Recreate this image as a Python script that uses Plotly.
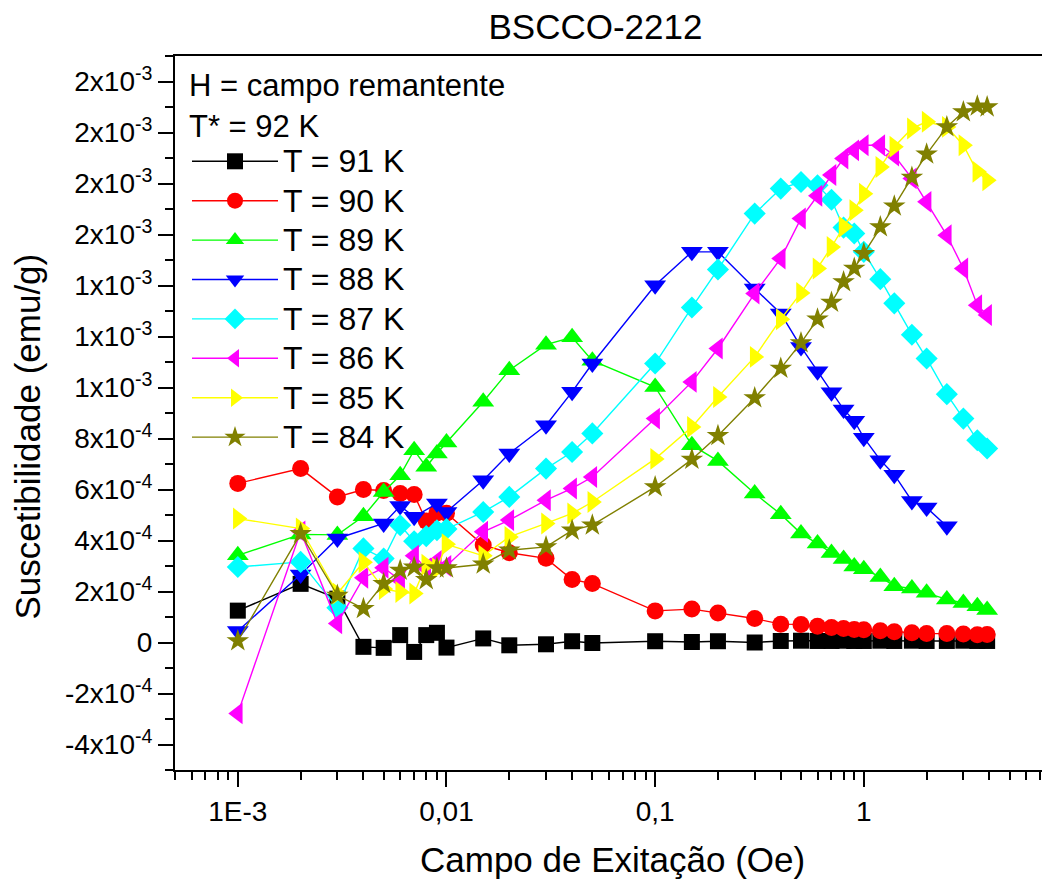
import plotly.graph_objects as go

# Excitation field (Oe) shared by all temperature runs
field_oe = [0.001, 0.002, 0.003, 0.004, 0.005, 0.006, 0.007, 0.008, 0.009, 0.01,
            0.015, 0.02, 0.03, 0.04, 0.05, 0.1, 0.15, 0.2, 0.3, 0.4,
            0.5, 0.6, 0.7, 0.8, 0.9, 1.0, 1.2, 1.4, 1.7, 2.0,
            2.5, 3.0, 3.5, 3.9]

# Susceptibility (emu/g) for each temperature
chi_91K = [1.25e-4, 2.30e-4, 1.72e-4, -0.17e-4, -0.21e-4, 0.29e-4, -0.37e-4, 0.29e-4, 0.38e-4, -0.20e-4,
           0.16e-4, -0.11e-4, -0.07e-4, 0.05e-4, -0.02e-4, 0.05e-4, 0.02e-4, 0.05e-4, 0.00e-4, 0.06e-4,
           0.07e-4, 0.06e-4, 0.06e-4, 0.07e-4, 0.06e-4, 0.06e-4, 0.07e-4, 0.06e-4, 0.07e-4, 0.06e-4,
           0.06e-4, 0.07e-4, 0.06e-4, 0.06e-4]
chi_90K = [6.24e-4, 6.82e-4, 5.71e-4, 6.00e-4, 5.96e-4, 5.84e-4, 5.80e-4, 4.76e-4, 5.08e-4, 5.07e-4,
           3.82e-4, 3.52e-4, 3.30e-4, 2.47e-4, 2.31e-4, 1.24e-4, 1.31e-4, 1.16e-4, 0.94e-4, 0.72e-4,
           0.71e-4, 0.64e-4, 0.59e-4, 0.55e-4, 0.51e-4, 0.50e-4, 0.46e-4, 0.42e-4, 0.38e-4, 0.35e-4,
           0.35e-4, 0.33e-4, 0.30e-4, 0.31e-4]
chi_89K = [3.42e-4, 4.24e-4, 4.22e-4, 4.95e-4, 5.90e-4, 6.56e-4, 7.54e-4, 6.89e-4, 7.41e-4, 7.84e-4,
           9.44e-4, 10.68e-4, 11.68e-4, 11.97e-4, 11.05e-4, 10.02e-4, 7.74e-4, 7.12e-4, 5.84e-4, 5.03e-4,
           4.27e-4, 3.88e-4, 3.51e-4, 3.27e-4, 2.98e-4, 2.87e-4, 2.57e-4, 2.21e-4, 2.12e-4, 1.95e-4,
           1.69e-4, 1.55e-4, 1.42e-4, 1.27e-4]
chi_88K = [0.45e-4, 2.67e-4, 4.08e-4, None, 4.67e-4, 5.35e-4, 4.93e-4, None, 5.45e-4, 5.12e-4,
           6.36e-4, 7.41e-4, 8.52e-4, 9.83e-4, 10.94e-4, 14.01e-4, 15.32e-4, 15.32e-4, 13.88e-4, 12.90e-4,
           11.59e-4, 10.64e-4, 9.81e-4, 9.14e-4, 8.70e-4, 8.03e-4, 7.15e-4, 6.58e-4, 5.55e-4, 5.29e-4,
           4.56e-4, None, None, None]
chi_87K = [2.96e-4, 3.16e-4, 1.36e-4, 3.69e-4, 3.29e-4, 4.60e-4, 3.97e-4, 4.17e-4, 4.40e-4, 4.45e-4,
           5.12e-4, 5.71e-4, 6.82e-4, 7.47e-4, 8.20e-4, 10.94e-4, 13.14e-4, 14.63e-4, 16.82e-4, 17.80e-4,
           18.06e-4, 17.93e-4, 17.36e-4, 16.27e-4, 16.04e-4, 15.32e-4, 14.25e-4, 13.30e-4, 12.07e-4, 11.14e-4,
           9.74e-4, 8.78e-4, 7.93e-4, 7.61e-4]
chi_86K = [-2.78e-4, 4.35e-4, 0.75e-4, 2.54e-4, 2.93e-4, 2.44e-4, 3.40e-4, 2.90e-4, 3.20e-4, 3.00e-4,
           4.34e-4, 4.80e-4, 5.58e-4, 6.04e-4, 6.49e-4, 8.78e-4, 10.22e-4, 11.53e-4, 13.69e-4, 15.06e-4,
           16.63e-4, 17.52e-4, 18.33e-4, 18.98e-4, 19.30e-4, 19.50e-4, 19.50e-4, 19.10e-4, 18.20e-4, 17.28e-4,
           15.97e-4, 14.67e-4, 13.23e-4, 12.84e-4]
chi_85K = [4.86e-4, 4.47e-4, 1.92e-4, 3.15e-4, 2.10e-4, 1.98e-4, 1.92e-4, 3.05e-4, 2.90e-4, 3.85e-4,
           3.40e-4, 4.14e-4, 4.67e-4, 5.06e-4, 5.51e-4, 7.20e-4, 8.45e-4, 9.63e-4, 11.20e-4, 12.68e-4,
           13.71e-4, 14.67e-4, 15.51e-4, 16.30e-4, 16.95e-4, 17.60e-4, 18.65e-4, 19.44e-4, 20.16e-4, 20.42e-4,
           20.22e-4, 19.50e-4, 18.46e-4, 18.13e-4]
chi_84K = [0.06e-4, 4.27e-4, 1.85e-4, 1.33e-4, 2.31e-4, 2.83e-4, 2.95e-4, 2.46e-4, 2.92e-4, 2.92e-4,
           3.07e-4, 3.62e-4, 3.75e-4, 4.40e-4, 4.60e-4, 6.10e-4, 7.18e-4, 8.11e-4, 9.59e-4, 10.75e-4,
           11.75e-4, 12.68e-4, 13.34e-4, 14.14e-4, 14.67e-4, 15.25e-4, 16.30e-4, 17.11e-4, 18.24e-4, 19.15e-4,
           20.22e-4, 20.81e-4, 21.03e-4, 21.00e-4]

series_names = ["T = 91 K", "T = 90 K", "T = 89 K", "T = 88 K",
                "T = 87 K", "T = 86 K", "T = 85 K", "T = 84 K"]
series_values = [chi_91K, chi_90K, chi_89K, chi_88K, chi_87K, chi_86K, chi_85K, chi_84K]

# Axis tick positions and labels
x_tick_vals = [0.001, 0.01, 0.1, 1]
x_tick_text = ["1E-3", "0,01", "0,1", "1"]
y_tick_vals = [-4e-4, -2e-4, 0, 2e-4, 4e-4, 6e-4, 8e-4, 1.0e-3, 1.2e-3, 1.4e-3,
               1.6e-3, 1.8e-3, 2.0e-3, 2.2e-3]
y_tick_text = ["-4x10<sup>-4</sup>", "-2x10<sup>-4</sup>", "0", "2x10<sup>-4</sup>",
               "4x10<sup>-4</sup>", "6x10<sup>-4</sup>", "8x10<sup>-4</sup>",
               "1x10<sup>-3</sup>", "1x10<sup>-3</sup>", "1x10<sup>-3</sup>",
               "2x10<sup>-3</sup>", "2x10<sup>-3</sup>", "2x10<sup>-3</sup>", "2x10<sup>-3</sup>"]

# Marker style per series: (colour, symbol, size)
styles = [
    ("#000000", "square", 16),
    ("#ff0000", "circle", 17),
    ("#00ff00", "triangle-up", 19),
    ("#0000ff", "triangle-down", 19),
    ("#00ffff", "diamond", 17),
    ("#ff00ff", "triangle-left", 19),
    ("#ffff00", "triangle-right", 19),
    ("#808000", "star", 17),
]

FONT = "Liberation Sans, Arial, sans-serif"

fig = go.Figure()
for name, vals, (color, symbol, size) in zip(series_names, series_values, styles):
    fig.add_trace(go.Scatter(
        x=field_oe, y=vals, mode="lines+markers", connectgaps=True,
        name='<span style="font-size:32px">' + name + '</span>',
        line=dict(color=color, width=1.4),
        marker=dict(color=color, symbol=symbol, size=size, line=dict(width=0)),
    ))

minor_x = [m * 10.0 ** e for e in range(-4, 1) for m in range(2, 10)]

fig.update_layout(
    width=1042, height=881,
    margin=dict(l=175, r=0, t=56, b=111),
    paper_bgcolor="white", plot_bgcolor="white",
    font=dict(family=FONT, color="black"),
    title=dict(text="BSCCO-2212", font=dict(size=35, family=FONT, color="black"),
               x=595.5 / 1042, xref="container", xanchor="center",
               y=1 - 27 / 881, yref="container", yanchor="middle"),
    showlegend=True,
    legend=dict(
        x=12 / 867, y=1.0, xanchor="left", yanchor="top",
        bgcolor="rgba(0,0,0,0)", borderwidth=0,
        font=dict(size=28, family=FONT, color="black"),
        title=dict(text="H = campo remantente<br>T* = 92 K",
                   font=dict(size=31, family=FONT, color="black")),
        itemwidth=86, tracegroupgap=0,
    ),
    xaxis=dict(
        type="log", range=[-3.30103, 0.854],
        showline=True, linecolor="black", linewidth=2, mirror=True,
        showgrid=False, zeroline=False,
        ticks="outside", ticklen=15, tickwidth=2, tickcolor="black",
        tickmode="array", tickvals=x_tick_vals, ticktext=x_tick_text,
        tickfont=dict(size=28, family=FONT, color="black"),
        minor=dict(ticks="outside", ticklen=8, tickwidth=2, tickcolor="black",
                   tickvals=minor_x, showgrid=False),
    ),
    yaxis=dict(
        range=[-5e-4, 2.3e-3],
        showline=True, linecolor="black", linewidth=2, mirror=False,
        showgrid=False, zeroline=False,
        ticks="outside", ticklen=15, tickwidth=2, tickcolor="black",
        tickmode="array", tickvals=y_tick_vals, ticktext=y_tick_text,
        tickfont=dict(size=28, family=FONT, color="black"),
        minor=dict(ticks="outside", ticklen=8, tickwidth=2, tickcolor="black",
                   dtick=1e-4, tick0=0, showgrid=False),
    ),
    annotations=[
        dict(text="Campo de Exitação (Oe)", xref="paper", yref="paper",
             x=(612.5 - 175) / 867, y=(770 - 859) / 714,
             xanchor="center", yanchor="middle", showarrow=False,
             font=dict(size=35, family=FONT, color="black")),
        dict(text="Suscetibilidade (emu/g)", xref="paper", yref="paper",
             x=(27 - 175) / 867, y=(770 - 436.5) / 714, textangle=-90,
             xanchor="center", yanchor="middle", showarrow=False,
             font=dict(size=35, family=FONT, color="black")),
    ],
)

fig.write_html("out.html")
